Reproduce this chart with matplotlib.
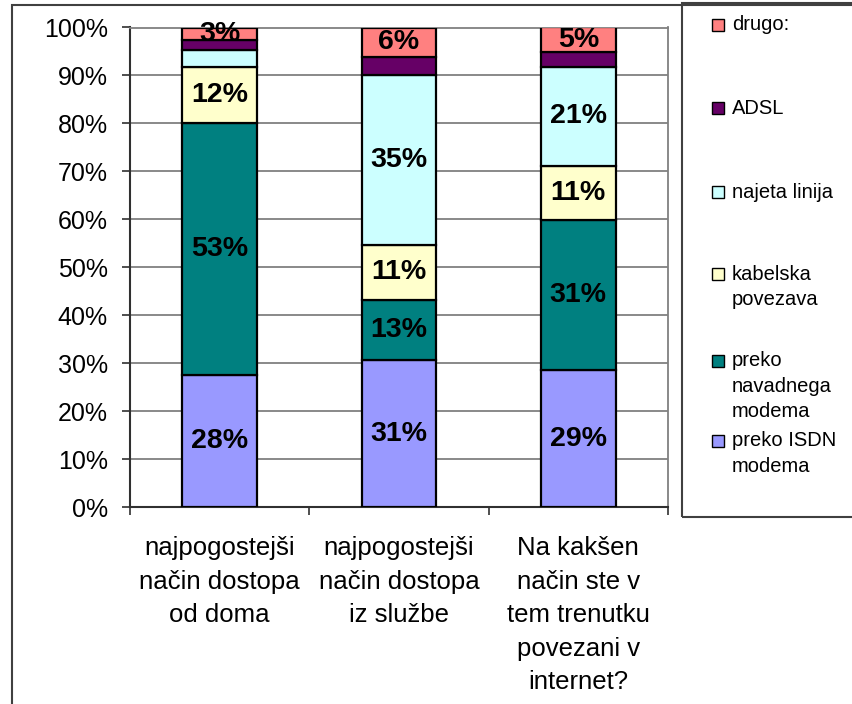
import matplotlib
matplotlib.use("Agg")
import matplotlib.pyplot as plt
from matplotlib.patches import Rectangle
import numpy as np

plt.rcParams['font.family'] = ['Liberation Sans', 'DejaVu Sans']

categories = ['najpogostejši\nnačin dostopa\nod doma',
              'najpogostejši\nnačin dostopa\niz službe',
              'Na kakšen\nnačin ste v\ntem trenutku\npovezani v\ninternet?']
series = ['preko ISDN\nmodema', 'preko\nnavadnega\nmodema', 'kabelska\npovezava',
          'najeta linija', 'ADSL', 'drugo:']
isdn = [27.6, 30.7, 28.6]
modem = [52.6, 12.6, 31.3]
kabel = [11.6, 11.4, 11.3]
najeta = [3.6, 35.4, 20.6]
adsl = [2.0, 3.7, 3.0]
drugo = [2.6, 6.2, 5.2]
values = [isdn, modem, kabel, najeta, adsl, drugo]
colors = ['#9999FF', '#008080', '#FFFFCC', '#CCFFFF', '#660066', '#FF8080']
# segments without a data label: (series index, category index)
hidden = {(3, 0), (4, 0), (4, 1), (4, 2)}

W, H = 852, 704
fig = plt.figure(figsize=(W / 100, H / 100), dpi=100)
ax = fig.add_axes([130 / W, 1 - 507.3 / H, (668 - 130) / W, (507.3 - 27.5) / H])

x = np.arange(len(categories))
bottom = np.zeros(len(categories))
for s, (vals, col) in enumerate(zip(values, colors)):
    vals = np.array(vals)
    ax.bar(x, vals, 0.418, bottom=bottom, color=col, edgecolor='black',
           linewidth=1.6, zorder=3)
    for j in range(len(x)):
        if (s, j) in hidden:
            continue
        ax.text(x[j], bottom[j] + vals[j] / 2, f'{round(vals[j])}%', ha='center',
                va='center', fontsize=20.5, fontweight='bold', zorder=4)
    bottom += vals

ax.set_xlim(-0.5, 2.5)
ax.set_ylim(0, 100)
ax.set_yticks(np.arange(0, 101, 10))
ax.set_yticklabels([f'{v}%' for v in range(0, 101, 10)], fontsize=18)
ax.yaxis.grid(True, color='#808080', linewidth=1.3, zorder=0)
ax.set_xticks(x)
ax.set_xticklabels(categories, fontsize=18.5, linespacing=1.5)
ax.set_xticks([-0.5, 0.5, 1.5, 2.5], minor=True)
ax.tick_params(axis='x', which='major', length=0, pad=21)
ax.tick_params(axis='x', which='minor', length=6, width=1.3, color='#404040')
ax.tick_params(axis='y', length=6, width=1.3, color='#404040', pad=10)
for side in ['left', 'bottom']:
    ax.spines[side].set_color('#303030')
    ax.spines[side].set_linewidth(1.5)
for side in ['right', 'top']:
    ax.spines[side].set_color('#808080')
    ax.spines[side].set_linewidth(1.3)

# outer chart border
fig.patches.append(Rectangle((12 / W, -0.1), 1.2, 1 - 5 / H + 0.1, transform=fig.transFigure,
                             fill=False, edgecolor='#404040', linewidth=1.5))

# legend box
fig.patches.append(Rectangle((682 / W, 1 - 517 / H), 0.5, 517 / H - 3 / H,
                             transform=fig.transFigure, fill=False,
                             edgecolor='#404040', linewidth=1.5))
legend_y = [25, 108, 192, 274, 361, 441]
for name, col, yc in zip(series[::-1], colors[::-1], legend_y):
    fig.patches.append(Rectangle((712 / W, 1 - (yc + 6) / H), 12 / W, 12 / H,
                                 transform=fig.transFigure, facecolor=col,
                                 edgecolor='black', linewidth=1))
    for k, line in enumerate(name.split('\n')):
        fig.text(732 / W, 1 - (yc + 25 * k) / H, line, fontsize=14.5,
                 ha='left', va='center')

fig.savefig('out.png', dpi=100)
